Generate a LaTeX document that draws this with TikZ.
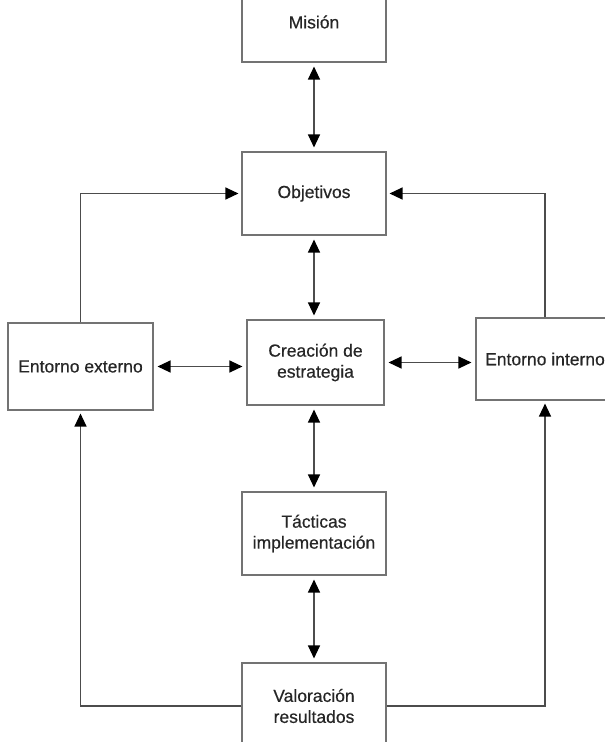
\documentclass[tikz,border=0pt]{standalone}
\usepackage{fontspec}
\setmainfont{Liberation Sans}[FakeBold=0.5]
\usetikzlibrary{arrows.meta}
\begin{document}
\begin{tikzpicture}[x=1pt,y=-1pt,
  box/.style={draw=black!55, line width=1.1pt, rectangle, inner sep=0pt, align=center,
    font=\fontsize{17.5}{21}\selectfont, text=black!85},
  conn/.style={draw=black!70, line width=1.2pt},
  tip/.style={-{Triangle[length=13pt,width=12pt,color=black]}, shorten >=3pt},
  both/.style={{Triangle[length=13pt,width=12pt,color=black]}-{Triangle[length=13pt,width=12pt,color=black]}, shorten >=4pt, shorten <=4pt}]
\useasboundingbox (0,0) rectangle (605,742);
\clip (0,0) rectangle (605,742);
\node[box, minimum width=144pt, minimum height=80pt] (mis) at (314,22) {Misión};
\node[box, minimum width=144pt, minimum height=83pt] (obj) at (314,193.5) {Objetivos};
\node[box, minimum width=145pt, minimum height=87pt] (ext) at (80.5,366.5) {Entorno externo};
\node[box, minimum width=137pt, minimum height=85pt] (cre) at (315.5,362.5) {Creación de\\estrategia};
\node[box, minimum width=138pt, minimum height=82pt] (int) at (545,359) {Entorno interno};
\node[box, minimum width=144pt, minimum height=83pt] (tac) at (314,533.5) {Tácticas\\implementación};
\node[box, minimum width=144pt, minimum height=86pt] (val) at (314,706) {Valoración\\resultados};
\draw[conn, both] (mis.south) -- (obj.north);
\draw[conn, both] (obj.south) -- (cre.north -| obj.south);
\draw[conn, both] (cre.south -| tac.north) -- (tac.north);
\draw[conn, both] (tac.south) -- (val.north);
\draw[conn, both] (ext.east) -- (cre.west |- ext.east);
\draw[conn, both] (cre.east) -- (int.west |- cre.east);
\draw[conn, tip, shorten <=0pt] (ext.north) |- (obj.west);
\draw[conn, tip, shorten <=0pt] (int.north) |- (obj.east);
\draw[conn, tip, shorten <=0pt] (val.west) -| (ext.south);
\draw[conn, tip, shorten <=0pt] (val.east) -| (int.south);
\end{tikzpicture}
\end{document}
